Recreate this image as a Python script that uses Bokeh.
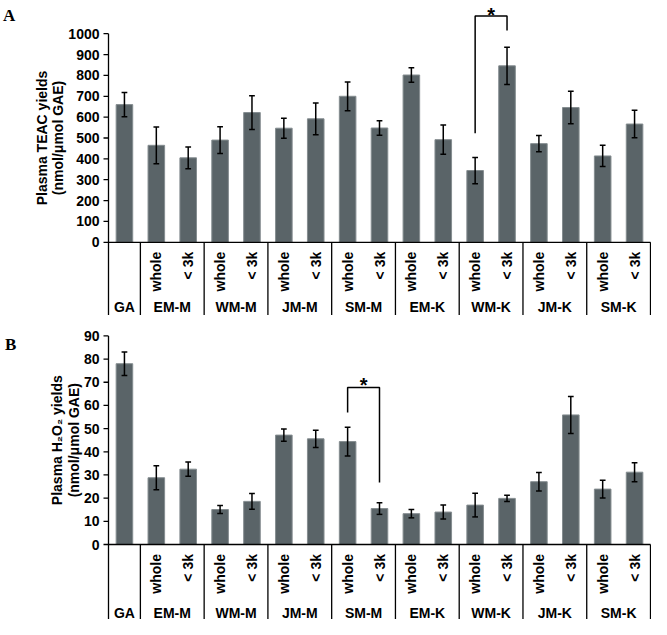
import math
from bokeh.plotting import figure
from bokeh.models import ColumnDataSource, Range1d
from bokeh.layouts import column
from bokeh.embed import file_html
from bokeh.resources import INLINE
from bokeh.core.properties import value

# ---------------- data ----------------
groups = ["GA", "EM-M", "WM-M", "JM-M", "SM-M", "EM-K", "WM-K", "JM-K", "SM-K"]
fractions = ["whole", "< 3k"]

teac_mean = [660, 465, 405, 490, 622, 547, 592, 700, 548, 802, 492, 344, 846, 473, 646, 414, 567]
teac_err = [58, 88, 52, 64, 81, 48, 76, 69, 35, 35, 70, 63, 89, 39, 78, 51, 66]

h2o2_mean = [78.0, 28.8, 32.5, 15.1, 18.6, 47.2, 45.6, 44.4, 15.5, 13.3, 14.0, 17.0, 19.9, 27.1, 55.9, 23.9, 31.2]
h2o2_err = [5.1, 5.2, 3.1, 1.7, 3.4, 2.6, 3.7, 6.2, 2.5, 1.8, 3.0, 5.1, 1.4, 4.0, 8.0, 3.8, 4.1]

teac_ticks = list(range(0, 1001, 100))
h2o2_ticks = list(range(0, 91, 10))

# significance brackets: (left bar index, right bar index, left foot, top, right foot)
teac_sig = (11, 12, 523, 1085, 1015)
h2o2_sig = (7, 8, 57, 67.7, 26.7)

# ---------------- layout helpers ----------------
FIG_W = 651
AXIS_PX = 108.0          # pixel column of the value axis
RIGHT_PX = 650.0         # pixel column of the table's right border
N = len(teac_mean)
PPU = (RIGHT_PX - AXIS_PX) / N   # pixels per bar slot
FONT = "Liberation Sans"
BAR_FILL = "#5a6468"
BAR_LINE = "#858d90"


def X(px):
    return 0.5 + (px - AXIS_PX) / PPU


def make_panel(means, errs, ticks, height, zero_px, top_tick_px,
               label1, label2, letter, lab1_px, lab2_px, letter_px, letter_base,
               sig, star_center_px, group_px):
    upp = ticks[-1] / (zero_px - top_tick_px)

    def Y(py):
        return (zero_px - py) * upp

    y_start, y_end = Y(height), Y(0)
    p = figure(width=FIG_W, height=height,
               x_range=Range1d(X(0), X(FIG_W)), y_range=Range1d(y_start, y_end),
               output_backend="svg", toolbar_location=None,
               x_axis_location=None, y_axis_location=None,
               min_border_left=0, min_border_right=0, min_border_top=0, min_border_bottom=0)
    p.outline_line_color = None
    p.xgrid.visible = False
    p.ygrid.visible = False
    p.background_fill_color = "white"

    txt = dict(text_font=value(FONT), text_font_style="bold", text_font_size="14px",
               text_color="black")

    # value axis (line, ticks, labels)
    p.segment(x0=[0.5], y0=[y_start], x1=[0.5], y1=[ticks[-1]], line_color="black", line_width=1.3)
    p.segment(x0=[X(AXIS_PX - 5)] * len(ticks), y0=ticks, x1=[0.5] * len(ticks), y1=ticks,
              line_color="black", line_width=1.3)
    p.text(x=[X(AXIS_PX - 9)] * len(ticks), y=ticks, text=[str(t) for t in ticks],
           text_align="right", text_baseline="middle", **txt)

    # bars and error bars
    xs = list(range(1, N + 1))
    src = ColumnDataSource(dict(
        x=xs, top=means,
        lo=[m - e for m, e in zip(means, errs)],
        hi=[m + e for m, e in zip(means, errs)],
        cl=[x - 0.09 for x in xs], cr=[x + 0.09 for x in xs],
    ))
    p.vbar(x="x", top="top", width=0.52, source=src,
           fill_color=BAR_FILL, line_color=BAR_LINE, line_width=1)
    p.segment(x0="x", y0="lo", x1="x", y1="hi", source=src, line_color="black", line_width=1.5)
    p.segment(x0="cl", y0="hi", x1="cr", y1="hi", source=src, line_color="black", line_width=1.5)
    p.segment(x0="cl", y0="lo", x1="cr", y1="lo", source=src, line_color="black", line_width=1.5)

    # category table under the axis
    p.segment(x0=[0.5], y0=[0], x1=[N + 0.5], y1=[0], line_color="black", line_width=1.3)
    dividers = [1.5 + 2 * i for i in range(len(groups))]
    p.segment(x0=dividers, y0=[0] * len(dividers), x1=dividers, y1=[y_start] * len(dividers),
              line_color="black", line_width=1.3)

    sub_x, sub_t = [], []
    for gi in range(1, len(groups)):
        for fi, f in enumerate(fractions):
            sub_x.append(2 * gi + fi)
            sub_t.append(f)
    p.text(x=sub_x, y=[Y(zero_px + 9.5)] * len(sub_x), text=sub_t, angle=math.pi / 2,
           text_align="right", text_baseline="middle", **txt)

    gx = [1] + [2 * gi + 0.5 for gi in range(1, len(groups))]
    p.text(x=gx, y=[Y(zero_px + group_px)] * len(gx), text=groups,
           text_align="center", text_baseline="middle", **txt)

    # significance bracket
    li, ri, lb, tp, rb = sig
    lx, rx = xs[li], xs[ri]
    p.line(x=[lx, lx, rx, rx], y=[lb, tp, tp, rb], line_color="black", line_width=1.5)
    p.text(x=[(lx + rx) / 2], y=[Y(star_center_px + 4.5)], text=["*"],
           text_align="center", text_baseline="alphabetic",
           text_font=value(FONT), text_font_style="bold", text_font_size="20px", text_color="black")

    # axis title (two lines, rotated)
    mid = ticks[-1] / 2
    p.text(x=[X(lab1_px), X(lab2_px)], y=[mid, mid], text=[label1, label2], angle=math.pi / 2,
           text_align="center", text_baseline="middle", **txt)

    # panel letter
    p.text(x=[X(letter_px)], y=[Y(letter_base)], text=[letter],
           text_align="left", text_baseline="alphabetic",
           text_font=value("Liberation Serif"), text_font_style="bold",
           text_font_size="17px", text_color="black")
    return p


pa = make_panel(teac_mean, teac_err, teac_ticks, height=315,
                zero_px=241.8, top_tick_px=33.2,
                label1="Plasma TEAC yields", label2="(nmol/\u03bcmol GAE)", letter="A",
                lab1_px=41.5, lab2_px=57.5, letter_px=2.5, letter_base=14.5,
                sig=teac_sig, star_center_px=9.5, group_px=65)

pb = make_panel(h2o2_mean, h2o2_err, h2o2_ticks, height=304,
                zero_px=229.0, top_tick_px=20.4,
                label1="Plasma H\u2082O\u2082 yields", label2="(nmol/\u03bcmol GAE)", letter="B",
                lab1_px=56, lab2_px=73, letter_px=4.5, letter_base=29,
                sig=h2o2_sig, star_center_px=65.3, group_px=68)

layout = column(pa, pb, spacing=0)
open("out.html", "w").write(file_html(layout, INLINE))
